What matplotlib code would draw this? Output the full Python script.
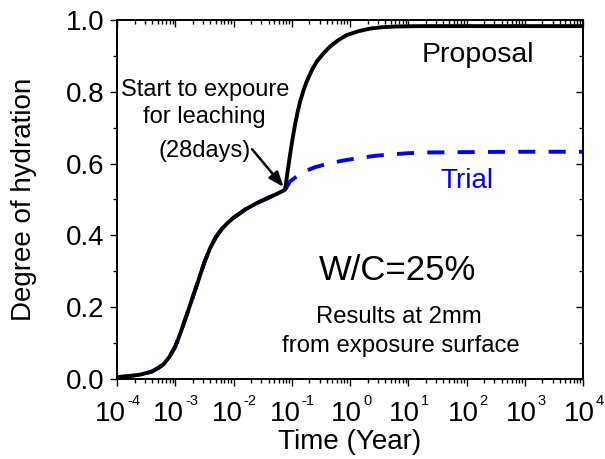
import numpy as np
import matplotlib
matplotlib.use("Agg")
import matplotlib.pyplot as plt
from matplotlib.transforms import ScaledTranslation

plt.rcParams["font.family"] = ["Liberation Sans", "DejaVu Sans"]

# Hydration before exposure (common to both models), log10 of time in years
log_t_early = [-4.0, -3.8, -3.6, -3.4, -3.3, -3.2, -3.1, -3.0, -2.9, -2.8,
               -2.7, -2.6, -2.5, -2.4, -2.3, -2.2, -2.1, -2.0, -1.8, -1.6,
               -1.4, -1.25, -1.115]
h_early = [0.005, 0.008, 0.012, 0.021, 0.030, 0.041, 0.062, 0.090, 0.133, 0.180,
           0.228, 0.276, 0.325, 0.365, 0.396, 0.418, 0.435, 0.449, 0.472, 0.490,
           0.505, 0.516, 0.527]

# Proposal model after start of leaching exposure
log_t_proposal = [-1.08, -1.03, -0.98, -0.944, -0.90, -0.858, -0.80, -0.745,
                  -0.65, -0.572, -0.45, -0.343, -0.2, -0.057, 0.15, 0.343,
                  0.55, 0.80, 1.25, 2.0, 3.0, 4.0]
h_proposal = [0.568, 0.624, 0.675, 0.708, 0.743, 0.772, 0.803, 0.828,
              0.862, 0.884, 0.908, 0.926, 0.944, 0.958, 0.969, 0.976,
              0.980, 0.982, 0.983, 0.983, 0.983, 0.983]

# Trial model after start of leaching exposure
log_t_trial = [-1.03, -0.90, -0.80, -0.6, -0.37, -0.1, 0.17, 0.45, 0.74,
               1.0, 1.32, 2.0, 3.0, 4.0]
h_trial = [0.550, 0.566, 0.577, 0.590, 0.600, 0.609, 0.616, 0.622, 0.626,
           0.629, 0.631, 0.632, 0.633, 0.633]

x_ticks = [1e-4, 1e-3, 1e-2, 1e-1, 1e0, 1e1, 1e2, 1e3, 1e4]
x_tick_exponents = ["-4", "-3", "-2", "-1", "0", "1", "2", "3", "4"]
y_ticks = [0.0, 0.2, 0.4, 0.6, 0.8, 1.0]
y_tick_labels = ["0.0", "0.2", "0.4", "0.6", "0.8", "1.0"]

t_prop = 10 ** np.array(log_t_early + log_t_proposal)
hp = np.array(h_early + h_proposal)
t_trial = 10 ** np.array(log_t_early + log_t_trial)
ht = np.array(h_early + h_trial)

DPI = 100
fig = plt.figure(figsize=(6.05, 4.59), dpi=DPI)
ax = fig.add_axes([117 / 605, 1 - 379 / 459, 466 / 605, 359 / 459])

ax.plot(t_trial, ht, color="#0000ff", lw=2.8, ls=(0, (4.4, 3.4)),
        solid_capstyle="butt", zorder=2)
ax.plot(t_prop, hp, color="black", lw=2.8, zorder=3)

ax.set_xscale("log")
ax.set_xlim(1e-4, 1e4)
ax.set_ylim(0, 1.0)
ax.set_xticks(x_ticks)
ax.set_xticklabels(["10"] * len(x_ticks))
ax.set_yticks(y_ticks)
ax.set_yticklabels(y_tick_labels)
ax.set_yticks(np.arange(0.1, 1.0, 0.2), minor=True)
minor_loc = matplotlib.ticker.LogLocator(base=10, subs=np.arange(2, 10), numticks=20)
ax.xaxis.set_minor_locator(minor_loc)
ax.xaxis.set_minor_formatter(matplotlib.ticker.NullFormatter())

for s in ax.spines.values():
    s.set_linewidth(1.1)

ax.tick_params(axis="both", which="major", direction="out", length=5, width=1.0,
               labelsize=20, top=False, right=False)
ax.tick_params(axis="both", which="minor", direction="out", length=2.8, width=1.0,
               top=False, right=False)
ax.tick_params(axis="x", which="major", pad=10.5)
ax.tick_params(axis="y", which="major", pad=4)

# Power-of-ten tick labels: base "10" plus a small raised exponent
for lab, exp in zip(ax.get_xticklabels(), x_tick_exponents):
    shift = -6.5 if exp.startswith("-") else -3.5
    lab.set_transform(lab.get_transform() + ScaledTranslation(shift / DPI, 0, fig.dpi_scale_trans))
for tk, exp in zip(x_ticks, x_tick_exponents):
    shift = -6.5 if exp.startswith("-") else -3.5
    ax.annotate(exp, xy=(tk, 0), xycoords=("data", "axes fraction"),
                xytext=((shift + 16.5) * 72 / DPI, -26 * 72 / DPI),
                textcoords="offset points", fontsize=10.5,
                ha="left", va="baseline", annotation_clip=False)

# Mirrored ticks pointing inward on top and right
axt = ax.twiny()
axt.set_xscale("log")
axt.set_xlim(ax.get_xlim())
axt.set_xticks(x_ticks)
axt.xaxis.set_minor_locator(matplotlib.ticker.LogLocator(base=10, subs=np.arange(2, 10), numticks=20))
axt.tick_params(axis="x", which="major", direction="in", length=5, width=1.0, labeltop=False)
axt.tick_params(axis="x", which="minor", direction="in", length=2.8, width=1.0, labeltop=False)
axr = ax.twinx()
axr.set_ylim(ax.get_ylim())
axr.set_yticks(y_ticks)
axr.set_yticks(np.arange(0.1, 1.0, 0.2), minor=True)
axr.tick_params(axis="y", which="major", direction="in", length=5, width=1.0, labelright=False)
axr.tick_params(axis="y", which="minor", direction="in", length=2.8, width=1.0, labelright=False)
for a in (axt, axr):
    for s in a.spines.values():
        s.set_linewidth(1.1)

ax.set_xlabel("Time (Year)", fontsize=20, labelpad=2)
ax.set_ylabel("Degree of hydration", fontsize=20, labelpad=21)

tr = ax.transAxes
ax.text(0.774, 0.884, "Proposal", transform=tr, fontsize=20.5, ha="center", va="baseline")
ax.text(0.752, 0.531, "Trial", transform=tr, fontsize=20, ha="center", va="baseline", color="#0000ff")
ax.text(0.602, 0.276, "W/C=25%", transform=tr, fontsize=25, ha="center", va="baseline")
ax.text(0.604, 0.157, "Results at 2mm", transform=tr, fontsize=17.2, ha="center", va="baseline")
ax.text(0.609, 0.074, "from exposure surface", transform=tr, fontsize=17.2, ha="center", va="baseline")
ax.text(0.189, 0.789, "Start to expoure", transform=tr, fontsize=17, ha="center", va="baseline")
ax.text(0.187, 0.712, "for leaching", transform=tr, fontsize=17, ha="center", va="baseline")
ax.text(0.187, 0.619, "(28days)", transform=tr, fontsize=17, ha="center", va="baseline")

ax.annotate("", xy=(10 ** -1.14, 0.535), xytext=(10 ** -1.68, 0.640),
            arrowprops=dict(arrowstyle="-|>,head_length=0.9,head_width=0.35",
                            color="black", lw=1.8, shrinkA=0, shrinkB=0))

fig.savefig("out.png", dpi=DPI)
